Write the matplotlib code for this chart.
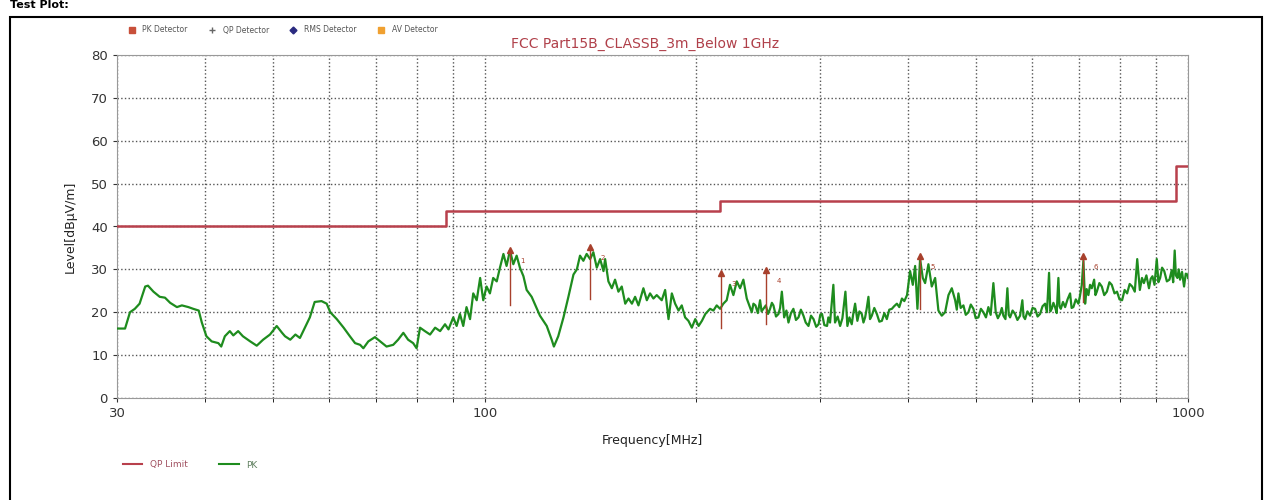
import numpy as np
import matplotlib
matplotlib.use("Agg")
import matplotlib.pyplot as plt
from matplotlib.lines import Line2D
from matplotlib.patches import Rectangle

# PK trace (MHz, dBuV/m)
pk_freq = [30.0, 30.8, 31.3, 31.8, 32.3, 32.9, 33.2, 33.8, 34.5, 35.1, 35.7, 36.5, 37.1, 37.9, 38.5,
           39.2, 39.6, 40.2, 40.9, 41.8, 42.2, 42.7, 43.4, 43.9, 44.6, 45.3, 46.4, 47.4, 48.4, 49.5,
           50.6, 51.5, 52.0, 52.9, 53.8, 54.6, 55.5, 56.4, 57.3, 58.6, 59.6,
           60.3, 61.6, 63.0, 64.3, 65.4, 66.5, 67.2, 68.3, 69.8, 71.0, 72.5, 74.1, 75.3, 76.6, 77.8,
           79.1, 80.0, 80.9, 82.2, 83.6, 85.0, 86.4, 87.8, 88.8, 90.2, 91.2, 92.2, 93.2, 94.2, 95.3,
           96.3, 97.4, 98.5, 99.5, 100.6, 101.7, 102.8, 104.0, 105.1, 106.3, 107.4, 108.6, 109.8,
           111.0, 112.2, 113.5, 114.7, 116.6, 118.6, 119.8,
           122.5, 124.5, 125.4, 127.2, 129.4, 131.5, 133.7, 135.2, 136.6, 138.1, 139.6, 141.2, 142.7,
           144.3, 145.9, 147.5, 148.3, 149.9, 151.6, 153.2, 154.9, 156.6, 158.4, 160.1, 161.9, 163.6,
           165.4, 168.1, 170.0, 171.8, 173.7, 175.6, 178.5, 180.5, 182.5, 184.5, 186.5, 188.6, 190.6,
           192.7, 194.8, 197.0, 199.2, 201.4, 203.6, 205.9, 209.1, 211.4, 213.7, 216.1, 218.4, 220.8,
           223.2, 225.7, 228.2, 230.7, 233.2, 235.8,
           239.7, 241.0, 242.6, 244.5, 246.3, 247.5, 249.0, 251.0, 252.8, 254.5, 256.0, 257.3, 259.5,
           261.6, 263.0, 264.5, 266.5, 268.5, 270.3, 272.5, 274.7, 277.0, 279.3, 281.5, 283.9, 286.0,
           288.6, 291.0, 293.4, 296.0, 298.3, 300.0, 301.7, 304.0, 306.7, 308.0, 309.7, 313.1, 314.8,
           317.5, 320.1, 322.5, 325.7, 327.8, 330.0, 332.5, 334.0, 336.2, 338.7, 341.0, 343.6, 345.5,
           347.4, 349.0, 351.2, 353.0, 355.1, 358.0, 361.0, 364.0, 367.0, 370.0, 373.0, 376.0, 379.2,
           382.0, 385.5, 388.5, 391.9, 395.0, 398.5,
           402.5, 406.1, 409.2, 412.3, 415.9, 419.6, 422.8, 427.4, 432.1, 436.9, 441.6, 446.5, 451.4,
           456.4, 461.4, 466.5,
           469.0, 471.5, 475.0, 479.3, 483.0, 487.2, 491.0, 495.2, 499.0, 503.4, 507.5, 511.7, 516.0,
           520.1, 524.0, 528.7, 532.8, 536.5, 540.4, 543.5, 546.3, 550.0, 553.5, 556.0, 558.4, 563.0,
           567.6, 572.0, 577.0, 581.3, 583.5, 586.5, 591.0, 596.2, 601.0, 606.0, 611.0, 616.0, 621.0,
           626.2, 630.0, 634.4, 637.0, 640.0, 643.5, 647.0, 650.5, 654.1, 656.5, 659.3, 664.0, 668.7,
           674.0, 679.6, 683.0, 687.0, 692.5, 698.4, 702.0, 706.2, 709.9, 713.9, 717.5, 721.7, 725.5,
           729.7, 735.3, 738.5, 741.8, 748.0, 754.0, 760.0, 766.6, 773.0, 779.0, 786.0, 792.5, 799.0,
           805.8, 812.5, 819.2, 826.0, 832.9, 840.0, 846.7, 854.0, 860.0, 865.4, 872.5, 879.9, 885.0,
           890.0, 896.0, 902.7, 907.5, 912.7, 918.5, 925.0, 933.0, 940.9, 948.0, 952.5, 957.2, 961.0,
           965.7, 970.0, 974.2, 980.5, 987.0, 992.5, 998.2, 1000.0]
pk_level = [16.2, 16.2, 20.0, 20.8, 22.0, 26.0, 26.2, 24.8, 23.6, 23.4, 22.2, 21.2, 21.6, 21.2, 20.8,
            20.4, 17.6, 14.4, 13.2, 12.8, 12.0, 14.4, 15.6, 14.6, 15.6, 14.4, 13.2, 12.2, 13.6, 14.8,
            16.8, 15.2, 14.4, 13.6, 14.8, 14.0, 16.4, 18.8, 22.4, 22.6, 22.0,
            20.0, 18.4, 16.4, 14.4, 12.8, 12.4, 11.6, 13.2, 14.2, 13.2, 12.0, 12.4, 13.6, 15.2, 13.6,
            12.8, 11.6, 16.4, 15.6, 14.8, 16.4, 15.6, 17.2, 16.0, 18.8, 16.8, 19.6, 16.8, 21.2, 18.4,
            24.4, 22.8, 28.0, 22.8, 26.0, 24.4, 28.0, 27.2, 30.4, 33.6, 30.8, 34.4, 31.2,
            33.2, 30.4, 28.4, 25.2, 23.6, 20.8, 19.2,
            16.8, 13.6, 12.0, 14.4, 18.8, 23.6, 28.8, 30.0, 33.2, 32.0, 33.6, 32.4, 34.0,
            30.4, 32.4, 29.6, 32.4, 27.2, 25.6, 27.6, 24.8, 26.0, 22.0, 23.2, 22.0, 23.6,
            21.6, 25.6, 22.8, 24.4, 23.2, 24.0, 22.8, 25.2, 18.4, 24.4, 22.0, 20.4, 21.6,
            18.8, 18.0, 16.4, 18.4, 16.8, 18.0, 19.6, 20.8, 20.4, 21.6, 20.8, 22.0, 22.8,
            26.4, 24.0, 27.2, 25.6, 27.6, 23.2,
            20.0, 22.0, 21.6, 19.8, 22.8, 20.2, 20.8, 21.6, 19.6, 20.8, 22.2, 21.6, 19.0,
            19.6, 21.0, 24.8, 18.8, 20.4, 17.6, 19.8, 20.8, 18.2, 18.8, 20.6, 19.2, 17.6,
            16.8, 19.2, 18.4, 16.6, 17.2, 19.4, 19.6, 17.0, 16.8, 18.8, 17.6, 26.4, 17.6,
            19.0, 16.8, 18.6, 24.8, 16.8, 18.8, 17.2, 19.4, 22.0, 18.0, 20.2, 19.6, 17.6,
            18.8, 20.6, 23.6, 18.4, 19.2, 21.0, 19.6, 17.8, 18.0, 19.8, 18.4, 20.6, 20.8,
            21.4, 22.0, 21.2, 23.2, 22.6, 24.0,
            29.6, 26.4, 30.8, 20.8, 32.4, 28.0, 26.8, 31.2, 26.0, 28.0, 20.4, 19.2, 20.0,
            24.0, 25.6, 22.8,
            20.6, 24.4, 21.0, 21.6, 19.4, 20.0, 21.8, 20.8, 18.6, 18.8, 20.8, 20.0, 18.8,
            21.2, 19.4, 26.8, 20.0, 18.6, 19.6, 21.0, 19.2, 18.4, 25.6, 19.4, 18.8, 20.4,
            19.6, 18.2, 19.2, 22.8, 19.0, 18.4, 20.2, 19.2, 21.0, 20.8, 19.0, 19.6, 21.4,
            22.0, 20.0, 29.2, 20.2, 20.8, 22.2, 21.2, 19.8, 28.0, 21.4, 20.8, 22.4, 21.2,
            23.0, 24.4, 21.0, 21.2, 23.0, 22.0, 23.8, 26.4, 32.0, 22.0, 25.4, 24.0, 26.4,
            25.6, 27.6, 24.0, 24.8, 26.8, 26.0, 24.0, 24.8, 27.0, 26.4, 24.4, 24.8, 23.0,
            22.8, 25.2, 24.4, 26.6, 26.0, 24.8, 32.4, 25.2, 28.0, 26.8, 28.6, 25.6, 27.8,
            28.4, 26.4, 32.4, 27.0, 28.0, 30.4, 29.6, 27.2, 27.6, 29.8, 27.0, 34.4, 28.6,
            28.0, 30.0, 27.6, 29.4, 26.0, 29.0, 28.8, 28.0]

# QP limit (FCC Part 15B class B, 3 m)
limit_freq = [30, 88, 216, 960, 1000]
limit_level = [40, 43.5, 46, 54, 54]

# marker spikes: frequency, top, bottom
mark_freq = [108.6, 141.2, 217.0, 251.0, 416.0, 710.0]
mark_top = [34.5, 35.2, 29.2, 29.8, 33.2, 33.2]
mark_bottom = [21.6, 23.2, 16.4, 17.2, 20.8, 22.4]
mark_names = ["1", "2", "3", "4", "5", "6"]

green = "#1e8c1e"
limit_red = "#b8404c"
mark_red = "#a8402c"

fig = plt.figure(figsize=(12.72, 5.0), dpi=100)
ax = fig.add_axes([0.092, 0.204, 0.842, 0.686])

ax.plot(pk_freq, pk_level, color=green, lw=1.6, zorder=3)
ax.plot(limit_freq, limit_level, color=limit_red, lw=1.8, drawstyle="steps-post", zorder=4)

for f, t, b, n in zip(mark_freq, mark_top, mark_bottom, mark_names):
    ax.plot([f, f], [b, t], color=mark_red, lw=1.0, zorder=5)
    ax.plot(f, t, marker="^", color=mark_red, ms=4, zorder=5)
    ax.text(f * 1.035, t - 3.0, n, color=mark_red, fontsize=5, zorder=6)

ax.set_xscale("log")
ax.set_xlim(30, 1000)
ax.set_ylim(0, 80)
ax.set_yticks(range(0, 81, 10))
ax.set_xticks([30, 100, 1000])
ax.set_xticklabels(["30", "100", "1000"])
ax.set_xticks([40, 50, 60, 70, 80, 90, 200, 300, 400, 500, 600, 700, 800, 900], minor=True)
ax.xaxis.set_minor_formatter(matplotlib.ticker.NullFormatter())
ax.grid(True, which="both", axis="x", color="#555555", ls=":", lw=1.0)
ax.grid(True, which="major", axis="y", color="#555555", ls=":", lw=1.0)
ax.tick_params(labelsize=9.5, colors="#333333", length=3)
ax.tick_params(axis="x", which="minor", length=3)
for s in ax.spines.values():
    s.set_color("#999999")

ax.set_xlabel("Frequency[MHz]", fontsize=9, color="#222222", labelpad=10)
ax.set_ylabel("Level[dBμV/m]", fontsize=9, color="#222222", labelpad=10)

fig.text(0.507, 0.905, "FCC Part15B_CLASSB_3m_Below 1GHz", color="#b0404a", fontsize=10, ha="center")

# detector legend on top
top_handles = [
    Line2D([], [], ls="none", marker="s", color="#c8503a", ms=4),
    Line2D([], [], ls="none", marker="+", color="#666666", ms=4),
    Line2D([], [], ls="none", marker="D", color="#2a2a80", ms=3.5),
    Line2D([], [], ls="none", marker="s", color="#f0a030", ms=4),
]
fig.legend(top_handles, ["PK Detector", "QP Detector", "RMS Detector", "AV Detector"],
           loc="center left", bbox_to_anchor=(0.092, 0.94), ncol=4, frameon=False,
           fontsize=5.5, handletextpad=0.4, columnspacing=2.2, labelcolor="#555555")

# trace legend at bottom
bot_handles = [Line2D([], [], color=limit_red, lw=1.5), Line2D([], [], color=green, lw=1.5)]
fig.legend(bot_handles, ["QP Limit", "PK"], loc="center left", bbox_to_anchor=(0.09, 0.07),
           ncol=2, frameon=False, fontsize=6.5, handlelength=2.2, columnspacing=3.5,
           labelcolor=["#a05060", "#608060"])

fig.add_artist(Rectangle((0.008, -0.01), 0.984, 0.977, transform=fig.transFigure,
                         fill=False, ec="black", lw=1.5))
fig.text(0.008, 0.999, "Test Plot:", fontsize=8, fontweight="bold", va="top")

fig.savefig("out.png", dpi=100)
